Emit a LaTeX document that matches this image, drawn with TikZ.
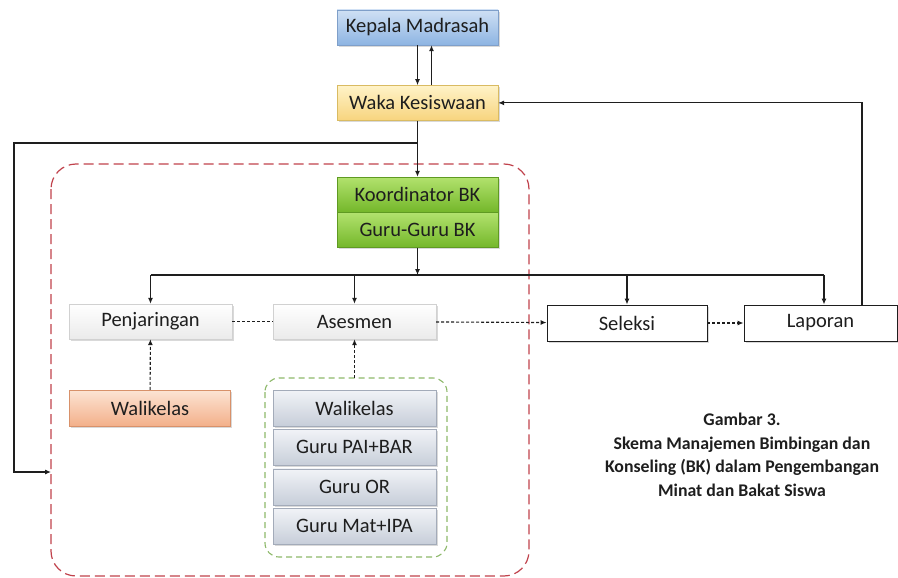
\documentclass[tikz,border=0pt]{standalone}
\usepackage{fontspec}
\setmainfont{Carlito}
\usetikzlibrary{arrows.meta,positioning,shadows}

\definecolor{kepalatop}{HTML}{CFE0F4}
\definecolor{kepalabot}{HTML}{8DB4E2}
\definecolor{kepalaline}{HTML}{7F9FC9}
\definecolor{wakatop}{HTML}{FFF3C8}
\definecolor{wakabot}{HTML}{F7D47E}
\definecolor{wakaline}{HTML}{D9BB62}
\definecolor{bktop}{HTML}{B2E26E}
\definecolor{bkbot}{HTML}{74B72A}
\definecolor{bkline}{HTML}{5F9A22}
\definecolor{walitop}{HTML}{FCE4D4}
\definecolor{walibot}{HTML}{F3B08A}
\definecolor{waliline}{HTML}{D8916A}
\definecolor{gurutop}{HTML}{F1F3F7}
\definecolor{gurubot}{HTML}{C7CED9}
\definecolor{guruline}{HTML}{A3ABB9}
\definecolor{reddash}{HTML}{C0424C}
\definecolor{greendash}{HTML}{8DB86A}
\definecolor{ink}{HTML}{1E1E1E}

\begin{document}
\begin{tikzpicture}[x=1pt, y=-1pt, node distance=0pt,
                    >={Latex[length=6pt,width=5pt]},
                    line/.style={draw=ink, line width=1.1pt},
                    dline/.style={line, dash pattern=on 3pt off 2pt},
                    main box/.style={rectangle, minimum width=161pt, minimum height=35pt, inner sep=0pt,
                                     text=ink, font=\fontsize{20.5}{24}\selectfont,
                                     drop shadow={opacity=0.3, shadow xshift=1.5pt, shadow yshift=-2pt}},
                    kepala box/.style={main box, top color=kepalatop, bottom color=kepalabot, draw=kepalaline},
                    waka box/.style={main box, top color=wakatop, bottom color=wakabot, draw=wakaline},
                    bk box/.style={main box, top color=bktop, bottom color=bkbot, draw=bkline},
                    wali box/.style={main box, top color=walitop, bottom color=walibot, draw=waliline},
                    guru box/.style={main box, minimum width=163pt, minimum height=36pt,
                                     top color=gurutop, bottom color=gurubot, draw=guruline},
                    step box/.style={main box, minimum width=163pt, top color=white, bottom color=black!8, draw=black!18},
                    plain box/.style={main box, minimum height=36pt, fill=white, draw=ink, line width=0.9pt, drop shadow={opacity=0}}]

  \useasboundingbox (0,0) rectangle (898,578);

  % frames
  \draw[reddash, line width=1.2pt, dash pattern=on 10pt off 5pt, rounded corners=25pt] (51,164) rectangle (529,576);
  \draw[greendash, line width=1.1pt, dash pattern=on 6pt off 4pt, rounded corners=14pt] (265,378) rectangle (447,557);

  % nodes
  \node[kepala box] (kepala) at (417.5,27.5) {Kepala Madrasah};
  \node[waka box] (waka) [below=40pt of kepala] {Waka Kesiswaan};
  \node[bk box] (koor) at (417.5,194.5) {Koordinator BK};
  \node[bk box] (gurubk) [below=of koor] {Guru-Guru BK};

  \node[step box] (penj) at (150.5,321.5) {Penjaringan};
  \node[step box] (ases) at (354.5,321.5) {Asesmen};
  \node[plain box, minimum width=160pt] (sel) at (627,323) {Seleksi};
  \node[plain box, minimum width=153pt] (lap) at (820.5,323) {Laporan};

  \node[wali box, minimum height=36pt] (wali) at (150,408) {Walikelas};
  \node[guru box] (guru1) at (354.5,408) {Walikelas};
  \node[guru box] (guru2) [below=3pt of guru1] {Guru PAI+BAR};
  \node[guru box] (guru3) [below=3pt of guru2] {Guru OR};
  \node[guru box] (guru4) [below=3pt of guru3] {Guru Mat+IPA};

  \node[align=center, text=ink, font=\bfseries\fontsize{17.8}{23.5}\selectfont] (caption) at (742,455)
    {Gambar 3.\\Skema Manajemen Bimbingan dan\\Konseling (BK) dalam Pengembangan\\Minat dan Bakat Siswa};

  \coordinate (bus) at (417.5,275);
  \coordinate (loop) at (14,143);
  \coordinate (redin) at (51,472);
  \coordinate (grtop) at (354.5,378);

  % connectors
  \draw[line,->] (kepala.south) -- (waka.north);
  \draw[line,->] ([xshift=14pt]waka.north) -- ([xshift=14pt]kepala.south);
  \draw[line,->] (waka.south) -- (koor.north);
  \draw[line,->] (waka.south |- loop) -- (loop) |- (redin);
  \draw[line,->] (gurubk.south) -- (bus);
  \draw[line] (penj.north |- bus) -- ([xshift=3.5pt]lap.north |- bus);
  \foreach \n in {penj,ases,sel}
    \draw[line,->] (\n.north |- bus) -- (\n.north);
  \draw[line,->] ([xshift=3.5pt]lap.north |- bus) -- ([xshift=3.5pt]lap.north);
  \draw[line,->] ([xshift=41.5pt]lap.north) |- (waka.east);

  \path[dline]
    (penj) edge (ases)
    (ases) edge[->] (sel)
    (sel) edge[->] (lap)
    (wali) edge[->] (penj)
    (grtop) edge[->] (ases.south);

\end{tikzpicture}
\end{document}
